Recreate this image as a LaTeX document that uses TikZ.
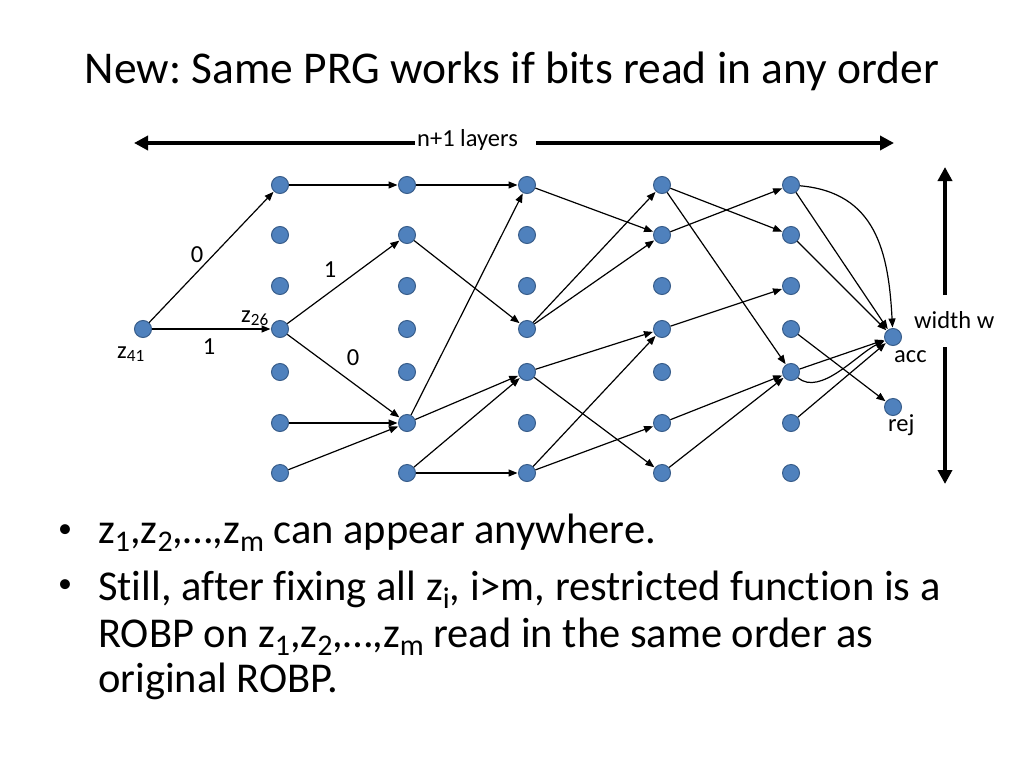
\documentclass[tikz,border=0pt]{standalone}
\usepackage{fontspec}
\setmainfont[Ligatures={NoCommon}]{Carlito}
\usetikzlibrary{arrows.meta}
\definecolor{dotfill}{HTML}{4F81BD}
\definecolor{dotedge}{HTML}{385D8A}
\newcommand\bsub[1]{\raisebox{-0.2em}{\fontsize{30}{30}\selectfont #1}}
\frenchspacing
\begin{document}
\begin{tikzpicture}[x=1pt,y=-1pt,
  dot/.style={circle,fill=dotfill,draw=dotedge,line width=1pt,minimum size=17pt,inner sep=0pt},
  edge/.style={-{Triangle[length=9pt,width=7pt]},line width=1.2pt,shorten >=0.5pt},
  lbl/.style={font=\fontsize{24.5}{28}\selectfont,inner sep=0pt},
  bul/.style={font=\fontsize{42.5}{47}\selectfont,inner sep=0pt,anchor=base west},
  bdot/.style={font=\fontsize{28}{30}\selectfont,inner sep=0pt,anchor=base},
  big/.style={line width=3.5pt,-{Triangle[length=14pt,width=14pt]}}]
\useasboundingbox (0,0) rectangle (1024,768);

% title
\node[anchor=base,inner sep=0pt,font=\fontsize{45.5}{50}\selectfont] (title) at (512,83)
  {New: Same PRG works if bits read in any order};

% layers arrow
\node[lbl,anchor=base west] (layers) at (417,146) {n+1 layers};
\coordinate (tl) at (134,143);
\coordinate (tr) at (894,143);
\coordinate (tls) at (415,143);
\coordinate (trs) at (536,143);
\draw[big] (tls) -- (tl);
\draw[big] (trs) -- (tr);

% width arrow
\node[lbl,anchor=base west] (width) at (914,328) {width w};
\coordinate (vt) at (945,167);
\coordinate (vts) at (945,295);
\coordinate (vb) at (945,484);
\coordinate (vbs) at (945,347);
\draw[big] (vts) -- (vt);
\draw[big] (vbs) -- (vb);

% nodes
\node[dot] (z41) at (143,329) {};
\foreach \c/\x in {1/280,2/407,3/527,4/662,5/791}{
  \foreach \r/\y in {0/185,1/235,2/286,3/329,4/372,5/423,6/473}{
    \node[dot] (n\c\r) at (\x,\y) {};
  }
}
\node[dot] (acc) at (893,337) {};
\node[dot] (rej) at (893,407) {};

% edges
\foreach \a/\b in {z41/n10,z41/n13,
  n10/n20,n13/n21,n13/n25,n15/n25,n16/n25,
  n20/n30,n21/n33,n25/n30,n25/n34,n26/n34,n26/n36,
  n30/n41,n33/n40,n33/n41,n34/n43,n34/n46,n36/n43,n36/n45,
  n40/n51,n40/n54,n41/n50,n43/n52,n45/n54,n46/n54,
  n50/acc,n51/acc,n53/rej,n54/acc,n55/acc}{
  \draw[edge] (\a) -- (\b);
}
\draw[edge] (n50) to[out=-5,in=93,looseness=1.15] (acc);
\draw[edge] (n54) to[out=-40,in=205,looseness=0.8] (acc);

% edge labels
\node[lbl] (l0a) at (197,255) {0};
\node[lbl] (l1a) at (209,347) {1};
\node[lbl] (l1b) at (330,270) {1};
\node[lbl] (l0b) at (353,358) {0};
\node[lbl,anchor=base west] (tz41) at (117,358) {z\textsubscript{41}};
\node[lbl,anchor=base west] (tz26) at (241,322) {z\textsubscript{26}};
\node[lbl,anchor=base west] (tacc) at (894,362) {acc};
\node[lbl,anchor=base west] (trej) at (888,431) {rej};

% bullets
\node[bdot] (b1) at (65,537) {\textbullet};
\node[bdot] (b2) at (65,592) {\textbullet};
\node[bul] (t1) at (98,543) {z\bsub{1},z\bsub{2},…,z\bsub{m} can appear anywhere.};
\node[bul] (t2) at (98,600) {Still, after fixing all z\bsub{i}, i>m, restricted function is a};
\node[bul] (t3) at (98,647) {ROBP on z\bsub{1},z\bsub{2},…,z\bsub{m} read in the same order as};
\node[bul] (t4) at (98,692) {original ROBP.};
\end{tikzpicture}
\end{document}
